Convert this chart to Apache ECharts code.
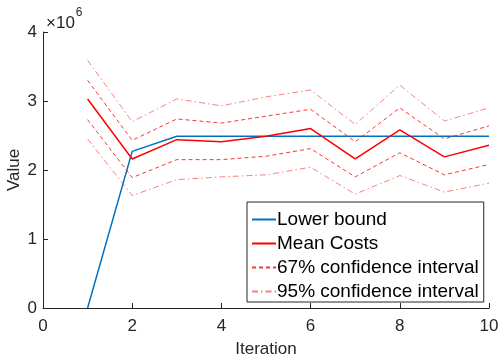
<!DOCTYPE html>
<html>
<head>
<meta charset="utf-8">
<script src="https://cdn.jsdelivr.net/npm/echarts@6/dist/echarts.min.js"></script>
<style>
  html, body { margin: 0; padding: 0; background: #fff; }
  #chart { width: 499px; height: 359px; }
</style>
</head>
<body>
<div id="chart"></div>
<script>
// iterations and series values (units of 1e6)
const iterations = [1, 2, 3, 4, 5, 6, 7, 8, 9, 10]
const lowerBound = [0, 2.27, 2.49, 2.49, 2.49, 2.49, 2.49, 2.49, 2.49, 2.49]
const meanCosts = [3.03, 2.16, 2.44, 2.41, 2.49, 2.60, 2.16, 2.58, 2.19, 2.36]
const ci67Upper = [3.30, 2.43, 2.74, 2.68, 2.78, 2.88, 2.41, 2.90, 2.45, 2.64]
const ci67Lower = [2.73, 1.89, 2.15, 2.15, 2.20, 2.31, 1.90, 2.25, 1.93, 2.08]
const ci95Upper = [3.59, 2.70, 3.03, 2.93, 3.06, 3.16, 2.66, 3.23, 2.71, 2.90]
const ci95Lower = [2.45, 1.63, 1.86, 1.90, 1.93, 2.04, 1.65, 1.92, 1.68, 1.81]
const xTicks = [0, 2, 4, 6, 8, 10]
const yTicks = [0, 1, 2, 3, 4]
const SCALE = 1e6

const pts = arr => iterations.map((x, i) => [x, arr[i] * SCALE])

const axisColor = '#262626'
const font = 'Liberation Sans, Arial, sans-serif'

const chart = echarts.init(document.getElementById('chart'))

const ciLine = (name, data, type, color) => ({
  name,
  type: 'line',
  data: pts(data),
  symbol: 'none',
  lineStyle: { color, width: 1, type },
  itemStyle: { color }
})

const dashes = [4, 3]
const dashDot = [6, 3, 1.5, 3]

chart.setOption({
  animation: false,
  grid: { left: 43, right: 10, top: 32, bottom: 51, outerBoundsMode: 'none' },
  xAxis: {
    type: 'value',
    min: xTicks[0],
    max: xTicks[xTicks.length - 1],
    interval: 2,
    name: 'Iteration',
    nameLocation: 'middle',
    nameGap: 33,
    nameMoveOverlap: false,
    nameTextStyle: { color: axisColor, fontSize: 17, fontFamily: font },
    axisLine: { lineStyle: { color: axisColor, width: 1 } },
    axisTick: { inside: true, length: 5, lineStyle: { color: axisColor } },
    axisLabel: { color: axisColor, fontSize: 17, fontFamily: font, margin: 10 },
    splitLine: { show: false }
  },
  yAxis: {
    type: 'value',
    min: yTicks[0] * SCALE,
    max: yTicks[yTicks.length - 1] * SCALE,
    interval: SCALE,
    name: 'Value',
    nameLocation: 'middle',
    nameGap: 20,
    nameMoveOverlap: false,
    nameTextStyle: { color: axisColor, fontSize: 17, fontFamily: font },
    axisLine: { show: true, lineStyle: { color: axisColor, width: 1 } },
    axisTick: { show: true, inside: true, length: 5, lineStyle: { color: axisColor } },
    axisLabel: {
      color: axisColor, fontSize: 17, fontFamily: font, margin: 6,
      formatter: v => String(v / SCALE)
    },
    splitLine: { show: false }
  },
  legend: {
    orient: 'vertical',
    left: 247,
    top: 202,
    padding: [8, 5, 1, 4],
    itemGap: 5,
    itemWidth: 24,
    itemHeight: 18,
    backgroundColor: '#fff',
    borderColor: '#262626',
    borderWidth: 1,
    borderRadius: 0,
    itemStyle: { opacity: 0 },
    textStyle: { color: '#000', fontSize: 19, lineHeight: 18, fontFamily: font, padding: [0, 0, 0, -4] },
    data: ['Lower bound', 'Mean Costs', '67% confidence interval', '95% confidence interval']
  },
  graphic: [{
    type: 'text',
    left: 46,
    top: 7,
    style: {
      text: '{a|×10}{b|6}',
      rich: {
        a: { fontSize: 17, fontFamily: font, fill: axisColor, padding: [8, 0, 0, 0] },
        b: { fontSize: 12, fontFamily: font, fill: axisColor, verticalAlign: 'top', padding: [0, 0, 0, 1] }
      }
    }
  }],
  series: [
    {
      name: 'Lower bound',
      type: 'line',
      data: pts(lowerBound),
      symbol: 'none',
      lineStyle: { color: '#0072BD', width: 1.5 },
      itemStyle: { color: '#0072BD' }
    },
    {
      name: 'Mean Costs',
      type: 'line',
      data: pts(meanCosts),
      symbol: 'none',
      lineStyle: { color: '#ff0000', width: 1.5 },
      itemStyle: { color: '#ff0000' }
    },
    ciLine('67% confidence interval', ci67Upper, dashes, 'rgba(255,0,0,0.8)'),
    ciLine('67% confidence interval', ci67Lower, dashes, 'rgba(255,0,0,0.8)'),
    ciLine('95% confidence interval', ci95Upper, dashDot, 'rgba(255,40,40,0.6)'),
    ciLine('95% confidence interval', ci95Lower, dashDot, 'rgba(255,40,40,0.6)')
  ]
})
</script>
</body>
</html>
